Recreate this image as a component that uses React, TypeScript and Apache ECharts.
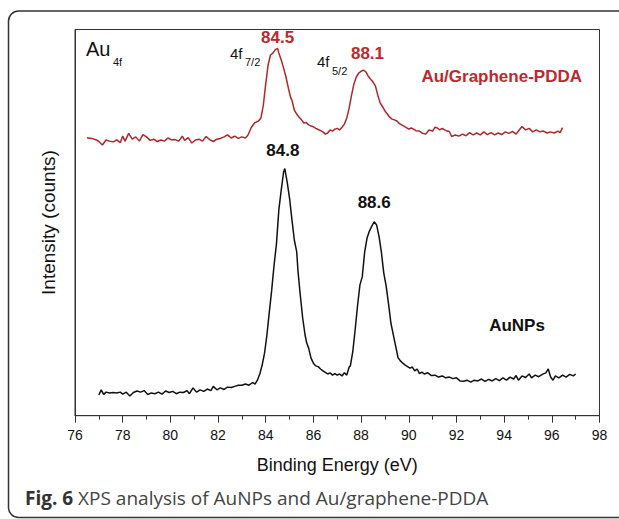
import React, { useEffect, useRef } from "react";
import * as echarts from "echarts";

// Binding energy (eV) and intensity (arbitrary units)
const redEnergy = [76.5,76.7,76.9,77.0,77.15,77.3,77.45,77.6,77.75,77.9,78.0,78.1,78.25,78.4,78.55,78.7,78.85,79.0,79.15,79.3,79.45,79.6,79.75,79.9,80.05,80.2,80.35,80.5,80.6,80.75,80.9,81.05,81.2,81.35,81.5,81.65,81.8,81.95,82.1,82.25,82.4,82.55,82.7,82.85,83.0,83.15,83.25,83.4,83.55,83.7,83.8,83.9,84.0,84.1,84.2,84.3,84.4,84.5,84.55,84.65,84.75,84.85,84.95,85.05,85.1,85.2,85.3,85.4,85.5,85.6,85.7,85.8,85.9,86.0,86.1,86.2,86.3,86.4,86.5,86.6,86.7,86.8,86.9,87.0,87.1,87.2,87.3,87.4,87.5,87.6,87.7,87.8,87.9,88.0,88.1,88.2,88.3,88.4,88.5,88.6,88.7,88.8,88.9,89.0,89.1,89.2,89.3,89.4,89.5,89.6,89.7,89.8,89.9,90.0,90.1,90.2,90.3,90.45,90.55,90.7,90.85,91.0,91.1,91.2,91.3,91.4,91.5,91.6,91.7,91.8,91.95,92.1,92.25,92.4,92.55,92.7,92.85,93.0,93.15,93.3,93.45,93.6,93.75,93.9,94.05,94.2,94.35,94.5,94.6,94.75,94.9,95.05,95.2,95.35,95.5,95.65,95.8,95.95,96.1,96.25,96.35,96.45];
const redIntensity = [72.0,71.8,71.4,71.0,70.1,71.4,71.1,70.9,71.4,70.7,72.4,71.1,73.1,71.6,72.2,71.1,72.8,72.2,71.3,71.6,71.0,71.4,71.1,71.9,71.4,71.5,71.1,72.4,71.3,72.0,70.6,71.4,71.6,71.1,72.3,71.5,71.0,71.6,71.8,72.2,72.7,71.9,72.4,71.8,72.2,71.9,72.6,74.7,75.9,76.3,77.1,80.4,85.9,90.8,93.4,93.9,94.8,95.1,93.9,92.1,90.0,87.7,84.8,82.3,81.7,79.1,78.1,77.3,76.6,75.8,75.9,75.3,75.0,74.8,74.4,74.1,73.8,73.5,72.9,73.2,74.0,73.7,74.2,74.4,74.0,74.7,75.5,77.1,79.7,83.0,85.9,87.7,88.7,89.2,89.5,89.0,87.9,87.1,86.4,85.4,83.0,81.0,80.0,78.9,78.1,77.3,76.8,76.6,76.3,75.7,75.3,75.0,74.6,74.2,74.5,74.2,73.8,73.7,73.2,72.9,74.0,73.7,74.7,74.5,74.0,74.4,74.0,73.7,73.6,72.3,72.7,72.4,72.9,72.5,73.3,72.7,73.2,72.7,73.5,72.8,73.3,72.7,73.2,72.8,73.5,73.1,73.6,72.9,73.7,74.9,74.0,74.4,73.5,74.0,73.5,73.7,73.2,73.5,73.2,73.7,73.3,74.6];

const blackEnergy = [77.0,77.1,77.2,77.3,77.45,77.6,77.75,77.9,78.0,78.15,78.3,78.45,78.6,78.75,78.9,79.05,79.2,79.35,79.5,79.65,79.8,79.95,80.1,80.25,80.4,80.55,80.7,80.8,80.95,81.1,81.25,81.4,81.55,81.7,81.8,81.95,82.1,82.25,82.4,82.55,82.7,82.85,83.0,83.15,83.3,83.45,83.55,83.65,83.75,83.85,83.95,84.05,84.15,84.25,84.35,84.45,84.55,84.65,84.75,84.8,84.9,85.0,85.1,85.2,85.3,85.35,85.45,85.55,85.65,85.72,85.8,85.9,86.0,86.1,86.2,86.3,86.4,86.5,86.6,86.7,86.8,86.9,87.0,87.1,87.2,87.3,87.4,87.5,87.55,87.65,87.75,87.85,87.95,88.05,88.15,88.25,88.35,88.45,88.55,88.65,88.75,88.85,88.95,89.05,89.15,89.25,89.35,89.45,89.55,89.65,89.75,89.85,89.95,90.05,90.15,90.25,90.35,90.45,90.55,90.65,90.8,90.95,91.1,91.25,91.4,91.55,91.7,91.85,92.0,92.15,92.3,92.45,92.6,92.75,92.9,93.05,93.2,93.35,93.5,93.65,93.8,93.95,94.1,94.25,94.4,94.5,94.6,94.75,94.9,95.05,95.15,95.3,95.45,95.6,95.75,95.85,95.95,96.05,96.15,96.3,96.45,96.6,96.75,96.9,97.0];
const blackIntensity = [5.4,6.7,5.5,6.1,5.9,6.0,5.9,6.1,5.6,6.1,5.1,6.0,6.4,6.1,6.5,5.5,5.9,5.7,6.1,5.6,6.4,6.0,6.3,5.7,6.1,6.0,6.5,5.7,7.2,6.1,6.7,6.3,6.9,6.5,7.6,6.7,7.2,6.8,7.4,7.3,7.6,7.9,7.9,8.2,7.9,8.6,8.2,9.2,10.8,13.1,16.2,20.9,26.8,32.5,39.0,44.5,53.3,58.4,63.1,64.0,60.5,56.3,50.7,45.5,42.4,37.7,31.2,25.3,20.9,18.8,17.5,14.9,13.6,12.9,12.7,12.1,11.6,11.2,10.8,11.1,10.5,10.9,10.5,10.8,10.3,11.1,10.5,12.6,12.9,16.5,22.2,28.4,33.8,36.0,42.4,46.0,47.8,49.1,50.2,49.4,46.5,42.4,37.0,33.6,29.0,24.0,21.0,18.0,15.0,14.2,13.6,13.1,12.7,12.3,12.6,11.6,12.1,10.9,11.3,10.8,11.1,10.4,10.5,10.0,10.3,9.8,10.0,9.6,9.8,9.0,8.9,9.2,8.7,9.2,9.0,9.5,8.9,9.4,9.0,9.6,9.1,9.8,9.2,10.0,9.5,10.4,9.2,10.3,9.9,10.8,9.8,10.5,10.1,10.7,11.1,12.1,10.0,9.2,10.3,9.8,10.5,10.0,10.7,10.3,10.8];

const redPeaks = [
  { name: "84.5", coord: [84.5, 95.1], offset: [0, -11] },
  { name: "88.1", coord: [88.1, 89.5], offset: [4, -17] },
];
const blackPeaks = [
  { name: "84.8", coord: [84.8, 64.0], offset: [-2, -18] },
  { name: "88.6", coord: [88.55, 50.2], offset: [0, -19] },
];

const seriesNames = ["Au/Graphene-PDDA", "AuNPs"];
const xTitle = "Binding Energy (eV)";
const yTitle = "Intensity (counts)";
const caption = "XPS analysis of AuNPs and Au/graphene-PDDA";

const RED_LINE = "#b0272b";
const RED_TEXT = "#c0282d";
const FONT = "Liberation Sans, Arial, sans-serif";

export default function App() {
  const ref = useRef<HTMLDivElement>(null);
  useEffect(() => {
    if (!ref.current) return;
    const chart = echarts.init(ref.current, null, { renderer: "svg" });
    const zip = (a: number[], b: number[]) => a.map((e, i) => [e, b[i]]);
    const mp = (peaks: any[], color: string) => ({
      symbol: "circle",
      symbolSize: 0,
      itemStyle: { color: "transparent" },
      label: {
        show: true,
        position: "inside",
        formatter: "{b}",
        color,
        fontWeight: "bold",
        fontSize: 17,
        fontFamily: FONT,
      },
      data: peaks.map((p) => ({ name: p.name, coord: p.coord, label: { offset: p.offset } })),
    });
    const txt = (text: string, x: number, y: number, size: number, opts: any = {}) => ({
      type: "text",
      x,
      y,
      silent: true,
      style: {
        text,
        fontSize: size,
        fontFamily: FONT,
        fill: opts.fill || "#111",
        fontWeight: opts.bold ? "bold" : "normal",
        textAlign: opts.align || "left",
        textVerticalAlign: "middle",
      },
    });
    chart.setOption({
      animation: false,
      grid: {
        left: 75,
        top: 29.5,
        width: 524.5,
        height: 386.2,
        show: true,
        borderColor: "#333",
        borderWidth: 1,
      },
      xAxis: {
        type: "value",
        min: 76,
        max: 98,
        interval: 2,
        name: xTitle,
        nameLocation: "middle",
        nameGap: 40,
        nameTextStyle: { fontSize: 18, fontFamily: FONT, color: "#111" },
        axisLine: { show: true, lineStyle: { color: "#333", width: 1 } },
        axisTick: { show: true, length: 7, lineStyle: { color: "#333" } },
        minorTick: { show: true, splitNumber: 2, length: 4, lineStyle: { color: "#333" } },
        axisLabel: { fontSize: 14, fontFamily: FONT, color: "#111", margin: 12 },
        splitLine: { show: false },
      },
      yAxis: {
        type: "value",
        min: 0,
        max: 100,
        name: yTitle,
        nameLocation: "middle",
        nameGap: 17,
        nameRotate: 90,
        nameTextStyle: { fontSize: 19, fontFamily: FONT, color: "#111" },
        axisLine: { show: true, lineStyle: { color: "#333", width: 1 } },
        axisTick: { show: false },
        axisLabel: { show: false },
        splitLine: { show: false },
      },
      series: [
        {
          name: seriesNames[0],
          type: "line",
          showSymbol: false,
          data: zip(redEnergy, redIntensity),
          lineStyle: { color: RED_LINE, width: 1.5 },
          markPoint: mp(redPeaks, RED_TEXT),
        },
        {
          name: seriesNames[1],
          type: "line",
          showSymbol: false,
          data: zip(blackEnergy, blackIntensity),
          lineStyle: { color: "#111", width: 1.5 },
          markPoint: mp(blackPeaks, "#111"),
        },
      ],
      graphic: [
        {
          type: "rect",
          silent: true,
          shape: { x: 8.5, y: 11, width: 640, height: 506.5, r: 10 },
          style: { fill: "none", stroke: "#333", lineWidth: 1.5 },
        },
        txt("Au", 86, 49, 20),
        txt("4f", 113, 62, 11),
        txt("4f", 230, 53, 15),
        txt("7/2", 245, 62, 11),
        txt("4f", 317, 61, 15),
        txt("5/2", 332, 71, 11),
        txt(seriesNames[0], 582, 76, 17, { bold: true, fill: RED_TEXT, align: "right" }),
        txt(seriesNames[1], 517, 325, 17, { bold: true, align: "center" }),
        {
          type: "text",
          x: 25,
          y: 498,
          silent: true,
          style: {
            text: "{b|Fig. 6} {r|" + caption + "}",
            textVerticalAlign: "middle",
            rich: {
              b: { fontSize: 19, fontFamily: "Open Sans", fontWeight: "bold", fill: "#333" },
              r: { fontSize: 19, fontFamily: "Open Sans", fill: "#444" },
            },
            fontSize: 19,
            fontFamily: "Open Sans",
          },
        },
      ],
    });
    return () => chart.dispose();
  }, []);
  return (
    <div
      ref={ref}
      style={{ position: "fixed", left: 0, top: 0, width: 619, height: 519, background: "#fff" }}
    />
  );
}
